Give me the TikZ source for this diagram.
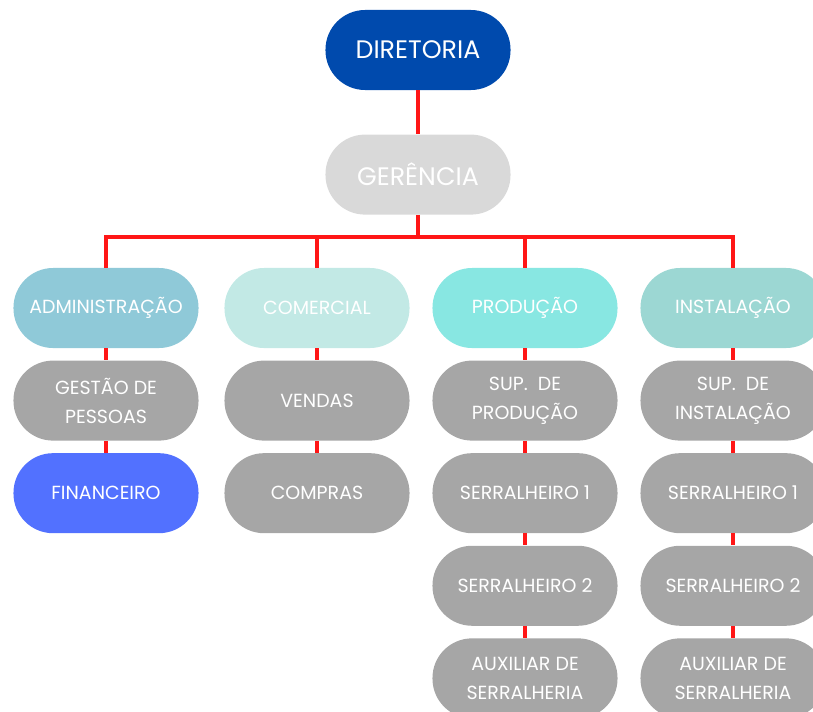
\documentclass[tikz,border=0pt]{standalone}
\usepackage{fontspec}
\setmainfont{Poppins}
\usepackage{tikz}
\usetikzlibrary{positioning}

\definecolor{dirblue}{HTML}{004AAD}
\definecolor{gergray}{HTML}{D9D9D9}
\definecolor{admblue}{HTML}{8FC9D8}
\definecolor{comcyan}{HTML}{C2E9E5}
\definecolor{prodcyan}{HTML}{88E7E2}
\definecolor{instcyan}{HTML}{9CD7D3}
\definecolor{boxgray}{HTML}{A6A6A6}
\definecolor{finblue}{HTML}{5271FF}
\definecolor{linkred}{HTML}{FF1616}

\begin{document}
\begin{tikzpicture}[x=0.025cm, y=-0.025cm, node distance=0.3cm]
    % Define styles
    \tikzset{
        box/.style={rectangle, rounded corners=0.99cm, minimum width=4.625cm, minimum height=2cm, align=center, text=white, inner sep=2pt, font=\fontsize{13.5}{20.5}\selectfont},
        head/.style={box, font=\fontsize{18}{21}\selectfont},
        sub/.style={box, fill=boxgray},
        link/.style={draw=linkred, line width=2.4pt}
    }
    \useasboundingbox (0,0) rectangle (813,711);

    % Top of the chart
    \node (dir) [head, fill=dirblue] at (418,50) {DIRETORIA};
    \node (ger) [head, fill=gergray, below=1.1cm of dir] {GERÊNCIA};
    \coordinate (bus) at (418,237);

    % Departments
    \node (adm) [box, fill=admblue] at (106,308) {ADMINISTRAÇÃO};
    \node (com) [box, fill=comcyan] at (317,308) {COMERCIAL};
    \node (prod) [box, fill=prodcyan] at (525,308) {PRODUÇÃO};
    \node (inst) [box, fill=instcyan] at (733,308) {INSTALAÇÃO};

    % Administração and Comercial
    \node (gp) [sub, below=of adm] {GESTÃO DE\\PESSOAS};
    \node (fin) [box, fill=finblue, below=of gp] {FINANCEIRO};
    \node (ven) [sub, below=of com] {VENDAS};
    \node (cpr) [sub, below=of ven] {COMPRAS};

    % Produção
    \node (supp) [sub, below=of prod] {SUP.\ \ DE\\PRODUÇÃO};
    \node (s1p) [sub, below=of supp] {SERRALHEIRO 1};
    \node (s2p) [sub, below=of s1p] {SERRALHEIRO 2};
    \node (auxp) [sub, below=of s2p] {AUXILIAR DE\\SERRALHERIA};

    % Instalação
    \node (supi) [sub, below=of inst] {SUP.\ \ DE\\INSTALAÇÃO};
    \node (s1i) [sub, below=of supi] {SERRALHEIRO 1};
    \node (s2i) [sub, below=of s1i] {SERRALHEIRO 2};
    \node (auxi) [sub, below=of s2i] {AUXILIAR DE\\SERRALHERIA};

    % Connectors
    \draw [link] (dir) -- (ger);
    \draw [link] (ger) -- (bus);
    \draw [link] (bus) -| (adm);
    \draw [link] (bus) -| (com);
    \draw [link] (bus) -| (prod);
    \draw [link] (bus) -| (inst);
    \draw [link] (adm) -- (gp);
    \draw [link] (gp) -- (fin);
    \draw [link] (com) -- (ven);
    \draw [link] (ven) -- (cpr);
    \draw [link] (prod) -- (supp);
    \draw [link] (supp) -- (s1p);
    \draw [link] (s1p) -- (s2p);
    \draw [link] (s2p) -- (auxp);
    \draw [link] (inst) -- (supi);
    \draw [link] (supi) -- (s1i);
    \draw [link] (s1i) -- (s2i);
    \draw [link] (s2i) -- (auxi);

\end{tikzpicture}
\end{document}
